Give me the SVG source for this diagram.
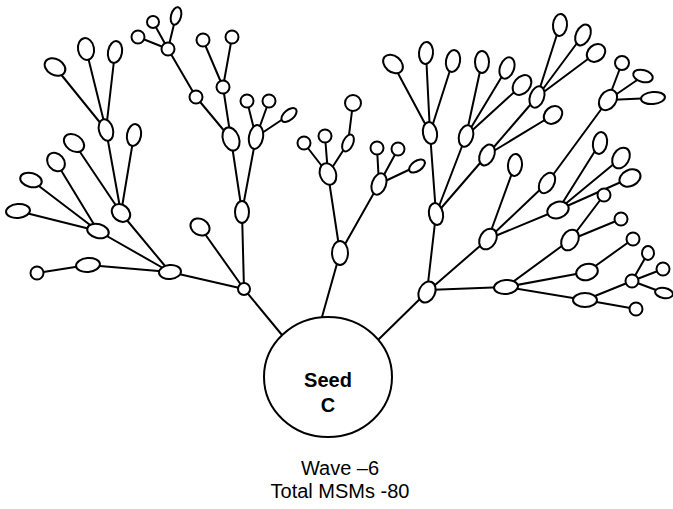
<svg xmlns="http://www.w3.org/2000/svg" width="673" height="509" viewBox="0 0 673 509">
<style>
.e{stroke:#000;stroke-width:2;fill:none}
.n ellipse,.n circle{fill:#fff;stroke:#000;stroke-width:2}
.t{font-family:"Liberation Sans",Arial,sans-serif;fill:#000;text-anchor:middle}
</style>
<rect width="673" height="509" fill="#fff"/>
<g id="connectors" class="e">
<path d="M244,289L282,335M340,253L322,317M427,292L378,340"/>
<path d="M244,289L242,212M244,289L200,227M244,289L170,272"/>
<path d="M170,272L88,265M88,265L37,273M170,272L98,231M170,272L121,213"/>
<path d="M98,231L18,211M98,231L31,180M98,231L56,162"/>
<path d="M121,213L74,143M121,213L106,130M121,213L134,135"/>
<path d="M106,130L55,67M106,130L86,49M106,130L115,52"/>
<path d="M242,212L231,139M242,212L256,137M231,139L196,97M231,139L223,87M196,97L168,49"/>
<path d="M168,49L138,37M168,49L153,22M168,49L176,16M223,87L203,40M223,87L232,37"/>
<path d="M256,137L247,101M256,137L269,101M256,137L289,115"/>
<path d="M340,253L328,174M340,253L379,184M328,174L304,143M328,174L325,136M328,174L348,143M348,143L353,103"/>
<path d="M379,184L377,148M379,184L398,149M379,184L417,166"/>
<path d="M427,292L436,214M427,292L488,239M427,290L506,287"/>
<path d="M436,214L430,133M436,214L466,136M436,214L487,155"/>
<path d="M430,133L393,64M430,133L426,53M430,133L453,61"/>
<path d="M466,136L482,62M466,136L507,68M466,136L522,85"/>
<path d="M487,155L537,97M487,155L553,115M537,97L560,25M537,97L583,35M537,97L596,53"/>
<path d="M488,239L515,165M488,239L547,183M488,239L558,210M547,183L608,100"/>
<path d="M608,100L622,63M608,100L643,76M608,100L653,98"/>
<path d="M558,210L600,143M558,210L621,158M558,210L630,178"/>
<path d="M506,287L570,240M506,287L587,272M506,287L585,300"/>
<path d="M570,240L604,195M570,240L621,219M587,272L633,239M585,300L632,281M585,300L636,309"/>
<path d="M632,281L648,253M632,281L663,269M632,281L664,293"/>
</g>
<g class="n">
<g id="seed"><ellipse cx="328" cy="377" rx="64" ry="60"/></g>
<g id="nA"><circle cx="244" cy="289" r="6"/></g>
<g id="n242_212"><ellipse cx="242" cy="212" rx="7" ry="11"/></g>
<g id="n200_227"><ellipse cx="200" cy="227" rx="10" ry="8" transform="rotate(30 200 227)"/></g>
<g id="nB"><ellipse cx="170" cy="272" rx="11" ry="7" transform="rotate(-5 170 272)"/></g>
<g id="n88_265"><ellipse cx="88" cy="265" rx="12" ry="7" transform="rotate(-5 88 265)"/></g>
<g id="n37_273"><circle cx="37" cy="273" r="6.5"/></g>
<g id="nC"><ellipse cx="98" cy="231" rx="11" ry="7" transform="rotate(15 98 231)"/></g>
<g id="nD"><ellipse cx="121" cy="213" rx="10" ry="8" transform="rotate(40 121 213)"/></g>
<g id="n18_211"><ellipse cx="18" cy="211" rx="12" ry="7" transform="rotate(-5 18 211)"/></g>
<g id="n31_180"><ellipse cx="31" cy="180" rx="11" ry="7" transform="rotate(15 31 180)"/></g>
<g id="n56_162"><ellipse cx="56" cy="162" rx="10" ry="8" transform="rotate(50 56 162)"/></g>
<g id="n74_143"><ellipse cx="74" cy="143" rx="11" ry="8" transform="rotate(35 74 143)"/></g>
<g id="nE"><ellipse cx="106" cy="130" rx="7" ry="11" transform="rotate(-15 106 130)"/></g>
<g id="n134_135"><ellipse cx="134" cy="135" rx="7" ry="11" transform="rotate(10 134 135)"/></g>
<g id="n55_67"><ellipse cx="55" cy="67" rx="11" ry="8" transform="rotate(30 55 67)"/></g>
<g id="n86_49"><ellipse cx="86" cy="49" rx="8" ry="11" transform="rotate(-10 86 49)"/></g>
<g id="n115_52"><ellipse cx="115" cy="52" rx="7" ry="11" transform="rotate(10 115 52)"/></g>
<g id="n231_139"><ellipse cx="231" cy="139" rx="8" ry="12" transform="rotate(-20 231 139)"/></g>
<g id="n256_137"><ellipse cx="256" cy="137" rx="7" ry="12" transform="rotate(10 256 137)"/></g>
<g id="n196_97"><circle cx="196" cy="97" r="6.5"/></g>
<g id="n223_87"><circle cx="223" cy="87" r="6.5"/></g>
<g id="n168_49"><circle cx="168" cy="49" r="6.5"/></g>
<g id="n138_37"><circle cx="138" cy="37" r="6.5"/></g>
<g id="n153_22"><circle cx="153" cy="22" r="6"/></g>
<g id="n176_16"><ellipse cx="176" cy="16" rx="5" ry="9" transform="rotate(15 176 16)"/></g>
<g id="n203_40"><circle cx="203" cy="40" r="6.5"/></g>
<g id="n232_37"><circle cx="232" cy="37" r="6.5"/></g>
<g id="n247_101"><circle cx="247" cy="101" r="6.5"/></g>
<g id="n269_101"><circle cx="269" cy="101" r="6.5"/></g>
<g id="n289_115"><ellipse cx="289" cy="115" rx="9" ry="5" transform="rotate(-40 289 115)"/></g>
<g id="nM"><ellipse cx="340" cy="253" rx="8" ry="12"/></g>
<g id="n328_174"><ellipse cx="328" cy="174" rx="8" ry="11" transform="rotate(-20 328 174)"/></g>
<g id="n379_184"><ellipse cx="379" cy="184" rx="7" ry="11" transform="rotate(20 379 184)"/></g>
<g id="n304_143"><circle cx="304" cy="143" r="6.5"/></g>
<g id="n325_136"><circle cx="325" cy="136" r="6.5"/></g>
<g id="n348_143"><ellipse cx="348" cy="143" rx="5" ry="9" transform="rotate(25 348 143)"/></g>
<g id="n353_103"><circle cx="353" cy="103" r="8"/></g>
<g id="n377_148"><circle cx="377" cy="148" r="6.5"/></g>
<g id="n398_149"><circle cx="398" cy="149" r="6.5"/></g>
<g id="n417_166"><ellipse cx="417" cy="166" rx="9" ry="5" transform="rotate(-35 417 166)"/></g>
<g id="nR0"><ellipse cx="427" cy="292" rx="8" ry="11" transform="rotate(25 427 292)"/></g>
<g id="nR1"><ellipse cx="436" cy="214" rx="7" ry="11" transform="rotate(-10 436 214)"/></g>
<g id="nR2"><ellipse cx="488" cy="239" rx="8" ry="11" transform="rotate(30 488 239)"/></g>
<g id="nR3"><ellipse cx="506" cy="287" rx="12" ry="7" transform="rotate(-5 506 287)"/></g>
<g id="n430_133"><ellipse cx="430" cy="133" rx="7" ry="11" transform="rotate(-10 430 133)"/></g>
<g id="n466_136"><ellipse cx="466" cy="136" rx="7" ry="11" transform="rotate(15 466 136)"/></g>
<g id="n487_155"><ellipse cx="487" cy="155" rx="7" ry="11" transform="rotate(25 487 155)"/></g>
<g id="n393_64"><ellipse cx="393" cy="64" rx="11" ry="8" transform="rotate(40 393 64)"/></g>
<g id="n426_53"><ellipse cx="426" cy="53" rx="7" ry="11" transform="rotate(5 426 53)"/></g>
<g id="n453_61"><ellipse cx="453" cy="61" rx="7" ry="11" transform="rotate(10 453 61)"/></g>
<g id="n482_62"><ellipse cx="482" cy="62" rx="7" ry="11"/></g>
<g id="n507_68"><ellipse cx="507" cy="68" rx="7" ry="11" transform="rotate(20 507 68)"/></g>
<g id="n522_85"><ellipse cx="522" cy="85" rx="8" ry="11" transform="rotate(40 522 85)"/></g>
<g id="n537_97"><ellipse cx="537" cy="97" rx="7" ry="11" transform="rotate(20 537 97)"/></g>
<g id="n553_115"><ellipse cx="553" cy="115" rx="10" ry="8" transform="rotate(-40 553 115)"/></g>
<g id="n560_25"><ellipse cx="560" cy="25" rx="7" ry="11" transform="rotate(5 560 25)"/></g>
<g id="n583_35"><ellipse cx="583" cy="35" rx="7" ry="11" transform="rotate(25 583 35)"/></g>
<g id="n596_53"><ellipse cx="596" cy="53" rx="10" ry="8" transform="rotate(-40 596 53)"/></g>
<g id="n515_165"><ellipse cx="515" cy="165" rx="7" ry="11" transform="rotate(5 515 165)"/></g>
<g id="n547_183"><ellipse cx="547" cy="183" rx="7" ry="11" transform="rotate(30 547 183)"/></g>
<g id="n558_210"><ellipse cx="558" cy="210" rx="11" ry="8" transform="rotate(-20 558 210)"/></g>
<g id="n608_100"><ellipse cx="608" cy="100" rx="8" ry="11" transform="rotate(35 608 100)"/></g>
<g id="n622_63"><circle cx="622" cy="63" r="7"/></g>
<g id="n643_76"><ellipse cx="643" cy="76" rx="10" ry="6" transform="rotate(15 643 76)"/></g>
<g id="n653_98"><ellipse cx="653" cy="98" rx="12" ry="6" transform="rotate(-5 653 98)"/></g>
<g id="n600_143"><ellipse cx="600" cy="143" rx="7" ry="11" transform="rotate(10 600 143)"/></g>
<g id="n621_158"><ellipse cx="621" cy="158" rx="8" ry="11" transform="rotate(30 621 158)"/></g>
<g id="n630_178"><ellipse cx="630" cy="178" rx="11" ry="8" transform="rotate(-25 630 178)"/></g>
<g id="n570_240"><ellipse cx="570" cy="240" rx="8" ry="11" transform="rotate(30 570 240)"/></g>
<g id="n587_272"><ellipse cx="587" cy="272" rx="11" ry="8" transform="rotate(-15 587 272)"/></g>
<g id="n585_300"><ellipse cx="585" cy="300" rx="12" ry="7"/></g>
<g id="n604_195"><circle cx="604" cy="195" r="6.5"/></g>
<g id="n621_219"><circle cx="621" cy="219" r="6.5"/></g>
<g id="n633_239"><circle cx="633" cy="239" r="6.5"/></g>
<g id="n632_281"><circle cx="632" cy="281" r="6.5"/></g>
<g id="n636_309"><circle cx="636" cy="309" r="6.5"/></g>
<g id="n648_253"><ellipse cx="648" cy="253" rx="6" ry="7"/></g>
<g id="n663_269"><circle cx="663" cy="269" r="6.5"/></g>
<g id="n664_293"><ellipse cx="664" cy="293" rx="9" ry="5" transform="rotate(10 664 293)"/></g>
</g>
<g id="labels" class="t">
<text x="328" y="387" font-size="20" font-weight="bold">Seed</text>
<text x="328" y="412" font-size="20" font-weight="bold">C</text>
<text x="340" y="475" font-size="20">Wave –6</text>
<text x="340" y="498" font-size="20">Total MSMs -80</text>
</g>
</svg>
